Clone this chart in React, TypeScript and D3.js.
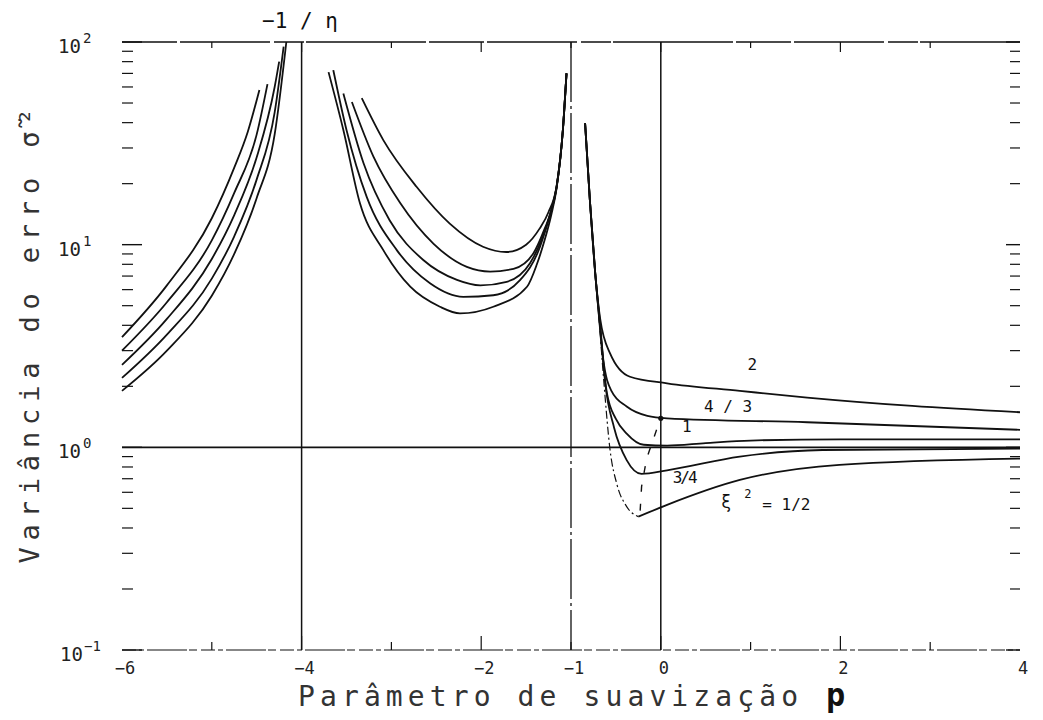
import React from "react";
import * as d3 from "d3";

// ---------- data (x = smoothing parameter p, v = error variance) ----------
const X_TICKS = [-6, -4, -2, -1, 0, 2, 4];
const Y_DECADES = [100, 10, 1, 0.1];
const Y_EXPONENTS = ["2", "1", "0", "−1"];

// left branch (p < -1/η)
const A1 = [[-6, 3.5], [-5.5, 6.3], [-5, 13.5], [-4.75, 24], [-4.6, 36], [-4.47, 58]];
const A2 = [[-6, 3.0], [-5.5, 5.2], [-5, 10.5], [-4.75, 18], [-4.5, 35], [-4.38, 62]];
const A3 = [[-6, 2.55], [-5.5, 4.3], [-5, 8.5], [-4.75, 14], [-4.5, 27], [-4.3, 60], [-4.25, 80]];
const A4 = [[-6, 2.2], [-5.5, 3.6], [-5, 6.8], [-4.75, 11], [-4.5, 21], [-4.3, 45], [-4.2, 95]];
const A5 = [[-6, 1.9], [-5.5, 3.0], [-5, 5.6], [-4.75, 9], [-4.5, 17], [-4.3, 35], [-4.17, 100]];

// middle branch (-1/η < p < -1)
const B1 = [[-3.33, 52.8], [-3.09, 32.8], [-2.72, 19.3], [-2.35, 12.7], [-1.98, 9.77], [-1.72, 9.2], [-1.5, 10], [-1.35, 12], [-1.25, 14.5], [-1.16, 19.5], [-1.09, 37], [-1.05, 70]];
const B2 = [[-3.44, 50.6], [-3.2, 27.2], [-2.9, 16], [-2.53, 10.1], [-2.16, 7.77], [-1.9, 7.37], [-1.64, 7.6], [-1.42, 9.05], [-1.3, 11.8], [-1.2, 15.8], [-1.16, 19.4], [-1.09, 37], [-1.05, 70]];
const B3 = [[-3.535, 55.7], [-3.31, 25.2], [-3.02, 13.2], [-2.645, 8.4], [-2.27, 6.7], [-2.01, 6.3], [-1.716, 6.56], [-1.457, 8.1], [-1.32, 10.8], [-1.22, 14.8], [-1.16, 19.3], [-1.09, 37], [-1.05, 70]];
const B4 = [[-3.647, 72.6], [-3.5, 36.8], [-3.275, 17.2], [-2.94, 9.4], [-2.57, 6.45], [-2.2, 5.53], [-1.865, 5.63], [-1.568, 6.68], [-1.345, 9.77], [-1.24, 13.8], [-1.16, 19.2], [-1.09, 37], [-1.05, 70]];
const B5 = [[-3.7, 71], [-3.535, 36.8], [-3.35, 16], [-3.09, 9.4], [-2.79, 6.2], [-2.46, 4.94], [-2.236, 4.58], [-1.865, 4.94], [-1.49, 6.2], [-1.38, 8], [-1.3, 10.3], [-1.22, 14], [-1.16, 19], [-1.09, 37], [-1.05, 70]];

// right branch (p > -1), labelled by ε²
const C_EPS2 = [[-0.843, 39.7], [-0.79, 16.6], [-0.73, 7.2], [-0.675, 4.3], [-0.565, 2.91], [-0.343, 2.23], [0.07, 2.07], [0.88, 1.9], [1.63, 1.76], [2.8, 1.6], [4, 1.49]];
const C_EPS43 = [[-0.843, 39.7], [-0.79, 16.6], [-0.73, 7.2], [-0.68, 4.1], [-0.64, 2.7], [-0.55, 1.9], [-0.38, 1.59], [-0.15, 1.43], [0.07, 1.39], [1.63, 1.33], [4, 1.22]];
const C_EPS1 = [[-0.843, 39.7], [-0.79, 16.6], [-0.73, 7.2], [-0.68, 4.0], [-0.6, 1.85], [-0.5, 1.38], [-0.38, 1.17], [-0.19, 1.03], [0.07, 1.02], [0.5, 1.05], [1, 1.08], [2, 1.095], [4, 1.095]];
const C_EPS34 = [[-0.843, 39.7], [-0.79, 16.6], [-0.73, 7.2], [-0.67, 3.8], [-0.62, 2.1], [-0.52, 1.25], [-0.38, 0.865], [-0.215, 0.74], [0.07, 0.77], [0.88, 0.9], [1.8, 0.97], [4, 0.985]];
const C_EPS12 = [[-0.25, 0.455], [0.07, 0.52], [0.88, 0.69], [1.99, 0.82], [4, 0.88]];
const C_EPS12_LEFT = [[-0.69, 4.5], [-0.63, 2.0], [-0.565, 0.97], [-0.49, 0.66], [-0.38, 0.51], [-0.25, 0.455]];
const MINIMA_LOCUS = [[-0.047, 1.22], [-0.158, 0.88], [-0.214, 0.64], [-0.232, 0.47]];

const W = 1043;
const H = 720;

export default function App() {
  const x = d3.scaleLinear().domain([-6, 4]).range([122, 1020]);
  const y = d3.scaleLog().domain([0.1, 100]).range([650, 42]);
  const line = d3
    .line<number[]>()
    .x((d) => x(d[0]))
    .y((d) => y(d[1]))
    .curve(d3.curveMonotoneX);
  const straight = d3
    .line<number[]>()
    .x((d) => x(d[0]))
    .y((d) => y(d[1]));

  const solid = [A1, A2, A3, A4, A5, B1, B2, B3, B4, B5, C_EPS2, C_EPS43, C_EPS1, C_EPS34, C_EPS12];

  // minor log ticks
  const minor: number[] = [];
  [0.1, 1, 10].forEach((dec) => {
    for (let k = 2; k <= 9; k++) minor.push(dec * k);
  });

  const ink = "#111";
  const font = "'DejaVu Sans Mono', monospace";
  const x0 = x(-6);
  const x1 = x(4);
  const intTicks = d3.range(-5, 4);

  return (
    <svg width={W} height={H} style={{ display: "block", position: "absolute", left: 0, top: 0, background: "#fff" }}>
      <rect x={0} y={0} width={W} height={H} fill="#fff" />
      {/* frame: top and bottom lines */}
      <line x1={x0} x2={x1} y1={y(100)} y2={y(100)} stroke={ink} strokeWidth={1.3} strokeDasharray="55,3,90,4,30,2,120,3" />
      <line x1={x0} x2={x1} y1={y(0.1)} y2={y(0.1)} stroke={ink} strokeWidth={1.2} strokeDasharray="14,3,5,3,40,2,8,4" />
      {/* top / bottom ticks at integers */}
      {intTicks.map((t) => (
        <g key={"it" + t}>
          <line x1={x(t)} x2={x(t)} y1={y(100)} y2={y(100) + (t % 2 === 0 ? 10 : 6)} stroke={ink} strokeWidth={1.2} />
          <line x1={x(t)} x2={x(t)} y1={y(0.1)} y2={y(0.1) - (t % 2 === 0 ? 14 : 8)} stroke={ink} strokeWidth={1.2} />
        </g>
      ))}
      {/* left and right ticks */}
      {Y_DECADES.map((d) => (
        <g key={"yd" + d}>
          <line x1={x0} x2={x0 + 20} y1={y(d)} y2={y(d)} stroke={ink} strokeWidth={1.4} />
          <line x1={x1} x2={x1 - 14} y1={y(d)} y2={y(d)} stroke={ink} strokeWidth={1.4} />
        </g>
      ))}
      {minor.map((m) => (
        <g key={"ym" + m}>
          <line x1={x0} x2={x0 + 11} y1={y(m)} y2={y(m)} stroke={ink} strokeWidth={1.2} />
          <line x1={x1} x2={x1 - 10} y1={y(m)} y2={y(m)} stroke={ink} strokeWidth={1.2} />
        </g>
      ))}
      {/* reference lines */}
      <line x1={x(-4)} x2={x(-4)} y1={y(100)} y2={y(0.1)} stroke={ink} strokeWidth={1.5} />
      <line x1={x(-1)} x2={x(-1)} y1={y(100)} y2={y(0.1)} stroke={ink} strokeWidth={1.3} strokeDasharray="60,4,3,4" />
      <line x1={x(0)} x2={x(0)} y1={y(100)} y2={y(0.1)} stroke={ink} strokeWidth={1.5} />
      <line x1={x0} x2={x1} y1={y(1)} y2={y(1)} stroke={ink} strokeWidth={1.6} />

      {/* curves */}
      {solid.map((s, i) => (
        <path key={"c" + i} d={line(s) || ""} fill="none" stroke={ink} strokeWidth={1.8} />
      ))}
      <path d={line(C_EPS12_LEFT) || ""} fill="none" stroke={ink} strokeWidth={1.2} strokeDasharray="8,3,2,3" />
      <path d={straight(MINIMA_LOCUS) || ""} fill="none" stroke={ink} strokeWidth={1.4} strokeDasharray="7,12" />
      <circle cx={x(0)} cy={y(1.39)} r={2.6} fill={ink} />

      {/* curve labels */}
      <g fontFamily={font} fill={ink}>
        <text x={x(1.02)} y={y(2.42)} fontSize={16} textAnchor="middle">2</text>
        <text x={x(0.75)} y={y(1.5)} fontSize={16} textAnchor="middle">4 / 3</text>
        <text x={x(0.29)} y={y(1.19)} fontSize={16} textAnchor="middle">1</text>
        <text x={x(0.26)} y={y(0.67)} fontSize={16} textAnchor="middle" letterSpacing={-2}>3/4</text>
        <text x={x(0.67)} y={y(0.5)} fontSize={17}>ξ</text>
        <text x={x(0.93)} y={y(0.56)} fontSize={12}>2</text>
        <text x={x(1.13)} y={y(0.49)} fontSize={16}>= 1/2</text>
      </g>

      {/* x tick labels */}
      <g fontFamily={font} fill="#222" fontSize={17} textAnchor="middle">
        {X_TICKS.map((t) => (
          <text key={"xl" + t} x={x(t) + 3} y={674}>
            {t < 0 ? "−" + Math.abs(t) : String(t)}
          </text>
        ))}
      </g>
      {/* y tick labels */}
      <g fontFamily={font} fill="#222">
        {Y_DECADES.map((d, i) => (
          <g key={"yl" + d}>
            <text x={i === 3 ? 60 : 58} y={y(d) + 11} fontSize={19}>10</text>
            <text x={i === 3 ? 84 : 83} y={y(d) + 1} fontSize={14}>{Y_EXPONENTS[i]}</text>
          </g>
        ))}
      </g>
      {/* -1/η */}
      <text x={300} y={28} fontFamily={font} fontSize={21} fill="#111" textAnchor="middle">−1 / η</text>

      {/* axis titles */}
      <text
        transform="translate(39,336) rotate(-90)"
        fontFamily={font}
        fontSize={27}
        fill="#333"
        textAnchor="middle"
        textLength={455}
        lengthAdjust="spacing"
      >
        Variância do erro σ̃²
      </text>
      <text x={298} y={706} fontFamily={font} fontSize={28} fill="#333" textLength={500} lengthAdjust="spacing">
        Parâmetro de suavização
      </text>
      <text x={826} y={706} fontFamily={font} fontSize={32} fontWeight="bold" fill="#111">p</text>
    </svg>
  );
}
